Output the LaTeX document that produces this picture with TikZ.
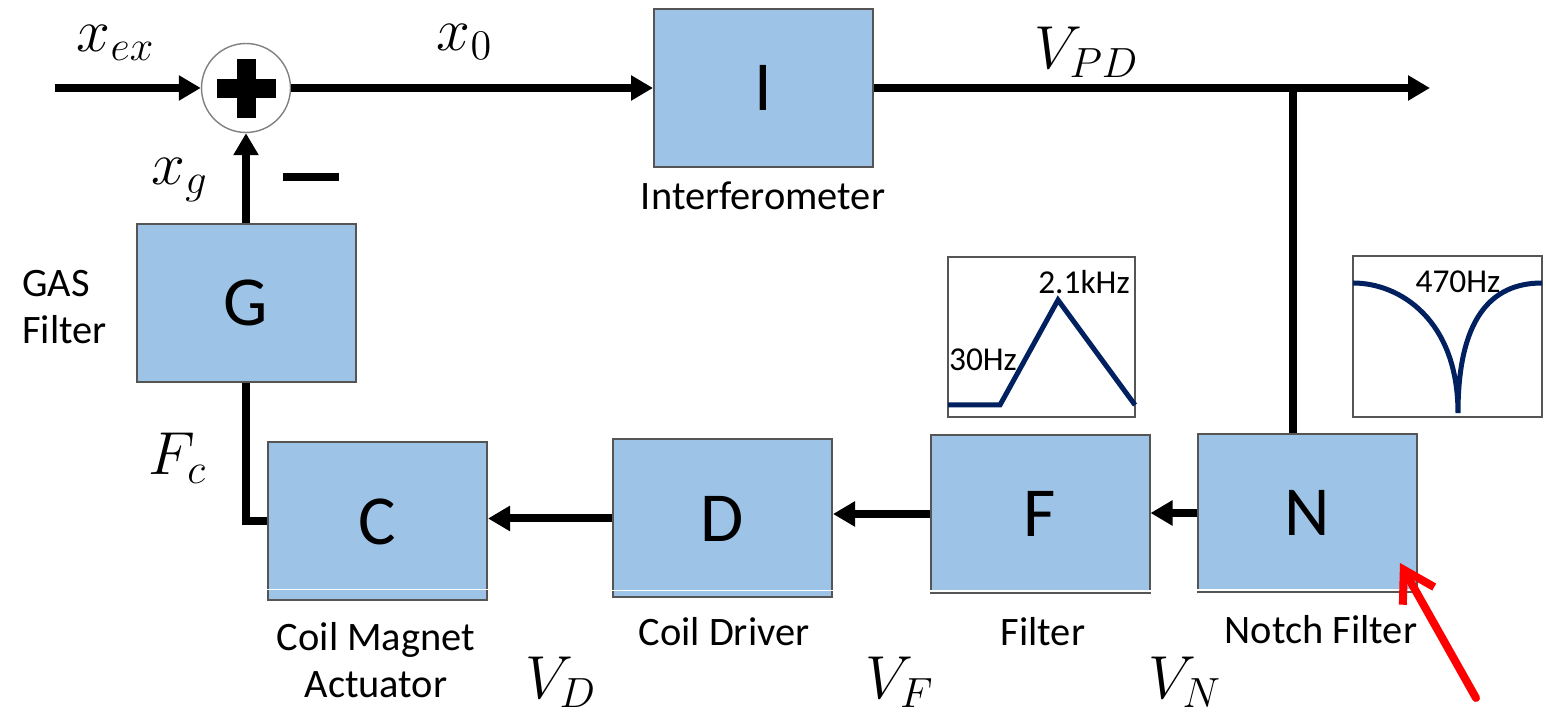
\documentclass[tikz,border=0pt]{standalone}
\usepackage{fontspec}
\setmainfont{Carlito}
\usetikzlibrary{arrows.meta}

\definecolor{boxblue}{RGB}{157,195,230}
\definecolor{boxline}{RGB}{85,85,85}
\definecolor{curvenavy}{RGB}{0,32,96}
\newcommand\blockfont{\fontsize{20}{24}\selectfont}
\newcommand\lblfont{\fontsize{11.5}{13.5}\selectfont}
\newcommand\plotfont{\fontsize{9.5}{11}\selectfont}
\newcommand\varfont{\fontsize{18}{22}\selectfont}

\begin{document}
\begin{tikzpicture}[x=1cm, y=-1cm,
	block/.style={draw=boxline, line width=0.02cm, fill=boxblue, minimum width=2.19cm, minimum height=1.58cm, inner sep=0pt, font=\blockfont},
	blocklabel/.style={font=\lblfont, align=center},
	var/.style={font=\varfont},
	tag/.style={font=\plotfont, inner sep=1pt},
	wire/.style={line width=0.08cm},
	sig/.style={wire, -{Triangle[length=0.22cm, width=0.24cm]}},
	plotframe/.style={draw=boxline, line width=0.02cm},
	resp/.style={curvenavy, line width=0.05cm}]
	\useasboundingbox (0,0) rectangle (15.46,7.14);
	
	% forward path
	\coordinate (xin) at (0.55,0.88);
	\node[circle, draw=gray, minimum size=0.89cm, inner sep=0pt] (sum) at (2.46,0.88) {};
	\fill (2.17,0.79) rectangle (2.76,0.98);
	\fill (2.37,0.59) rectangle (2.56,1.18);
	\node[block] (I) at (7.635,0.88) {I};
	\coordinate (vout) at (14.30,0.88);
	\coordinate (tap) at (12.93,0.88);
	
	\draw[sig] (xin) -- (sum);
	\draw[sig] (sum) -- (I);
	\draw[sig] (I) -- (vout);
	
	% feedback path
	\node[block] (N) at (13.075,5.13) {N};
	\node[block] (F) at (10.40,5.14) {F};
	\node[block] (D) at (7.225,5.185) {D};
	\node[block] (C) at (3.775,5.215) {C};
	\node[block] (G) at (2.46,3.03) {G};
	\foreach \b/\h in {C/0.12, D/0.08, F/0.03, N/0.03}	{
		\draw[white, line width=0.015cm] ([yshift=\h cm]\b.south west) -- ([yshift=\h cm]\b.south east);
	}
	
	\draw[wire] (tap) -- (tap |- N.north);
	\draw[sig] (N.west) -- (N.west -| F.east);
	\draw[sig] (F.west) -- (F.west -| D.east);
	\draw[sig] (D.west) -- (D.west -| C.east);
	\draw[wire] (C.west) -| (G.south);
	\draw[sig] (G) -- (sum);
	
	\node[blocklabel] (Ilbl) at (7.63,1.96) {Interferometer};
	\node[blocklabel, align=left, anchor=west] (Glbl) at (0.10,3.07) {GAS\\Filter};
	\node[blocklabel] (Clbl) at (3.76,6.60) {Coil Magnet\\Actuator};
	\node[blocklabel] (Dlbl) at (7.24,6.32) {Coil Driver};
	\node[blocklabel] (Flbl) at (10.43,6.32) {Filter};
	\node[blocklabel] (Nlbl) at (13.21,6.30) {Notch Filter};
	
	\node[var] (xex) at (1.16,0.43) {$x_{ex}$};
	\node[var] (x0) at (4.65,0.42) {$x_0$};
	\node[var] (vpd) at (10.87,0.52) {$V_{PD}$};
	\node[var] (xg) at (1.80,1.80) {$x_g$};
	\node (minus) at (3.11,1.77) {\rule{0.56cm}{0.08cm}};
	\node[var] (fc) at (1.78,4.58) {$F_c$};
	\node[var] (vd) at (5.61,6.82) {$V_D$};
	\node[var] (vf) at (9.00,6.82) {$V_F$};
	\node[var] (vn) at (11.85,6.82) {$V_N$};
	
	% filter responses
	\draw[plotframe] (9.48,2.57) rectangle (11.35,4.17);
	\draw[resp] (9.48,4.05) -- (10.00,4.05) -- (10.58,3.00) -- (11.35,4.05);
	\node[tag] (lo) at (9.83,3.60) {30Hz};
	\node[tag] (hi) at (10.84,2.82) {2.1kHz};
	
	\draw[plotframe] (13.53,2.56) rectangle (15.42,4.17);
	\draw[resp] (13.53,2.83) .. controls (14.00,2.83) and (14.58,3.20) .. (14.58,4.13) .. controls (14.58,3.20) and (14.90,2.83) .. (15.42,2.83);
	\node[tag] (notch) at (14.58,2.82) {470Hz};
	
	\coordinate (ptail) at (14.76,6.98);
	\coordinate (ptip) at (14.00,5.63);
	\draw[red, line width=0.08cm, line cap=round, -{Straight Barb[length=0.3cm, width=0.36cm]}] (ptail) -- (ptip);
\end{tikzpicture}
\end{document}
